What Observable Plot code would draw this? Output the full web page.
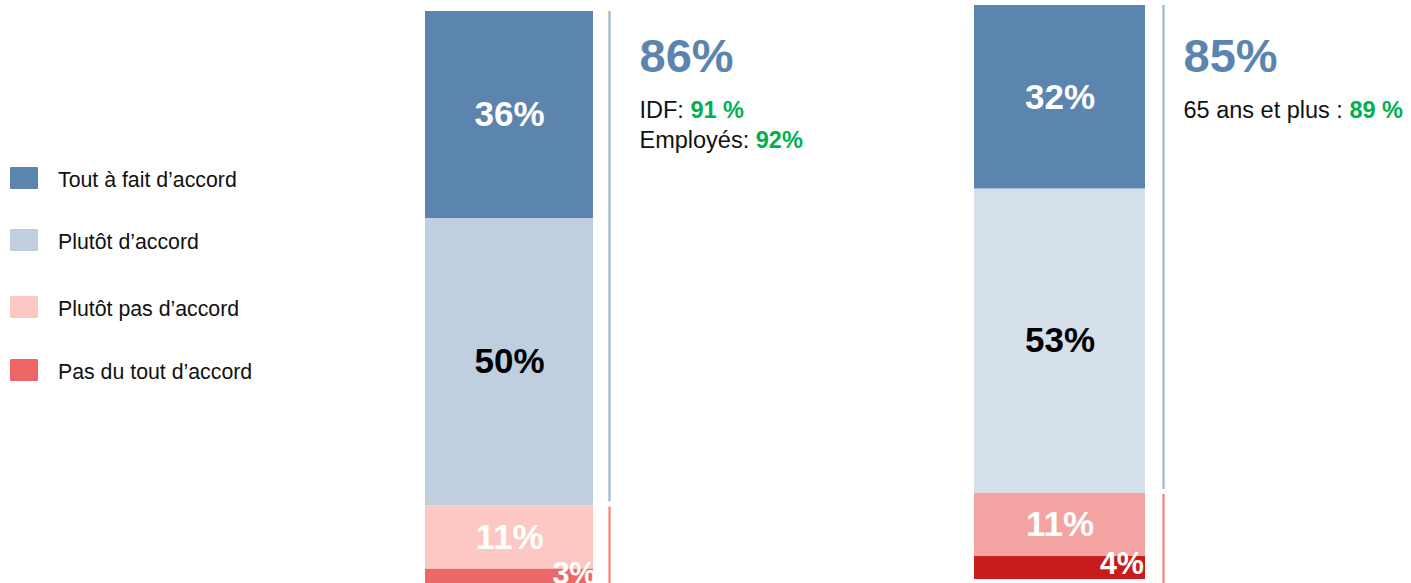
<!DOCTYPE html>
<html><head><meta charset="utf-8">
<script src="https://cdn.jsdelivr.net/npm/d3@7"></script>
<script src="https://cdn.jsdelivr.net/npm/@observablehq/plot@0.6"></script>
<style>
body{margin:0;background:#fff;font-family:"Liberation Sans",Arial,sans-serif}
#wrap{position:relative;width:1411px;height:583px;overflow:hidden;background:#fff}
#wrap svg{position:absolute;left:0;top:0}
.li{position:absolute;left:10px;height:22px}
.li .sw{position:absolute;left:0;top:0;width:28px;height:22px;border-radius:1px}
.li .tx{position:absolute;left:48px;top:2px;font-size:21.3px;line-height:22px;white-space:nowrap;color:#111}
</style></head><body><div id="wrap"></div>
<script>
// ---- data ----
const categories = ["Tout à fait d’accord", "Plutôt d’accord", "Plutôt pas d’accord", "Pas du tout d’accord"];
const groups = ["Question 1", "Question 2"];
const valuesQ1 = [36, 50, 11, 3];
const valuesQ2 = [32, 53, 11, 4];
const favorableTotals = [86, 85];
const highlightsQ1 = [{label: "IDF: ", value: "91 %"}, {label: "Employés: ", value: "92%"}];
const highlightsQ2 = [{label: "65 ans et plus : ", value: "89 %"}];

// ---- styles / layout ----
const colorsQ1 = ["#5b84ae", "#bfcfe0", "#fdc8c3", "#ec6868"];
const colorsQ2 = ["#5b84ae", "#d5e0ea", "#f2a3a2", "#c81c1c"];
const labelInk = ["#ffffff", "#000000", "#ffffff", "#ffffff"];
const ruleColors = ["#9db5d2", "#f28379"];
const legendTops = [167, 229, 296, 359];
const FONT = '"Liberation Sans", Arial, sans-serif';
const layouts = [
  {xRange: [424, 1142], paddingInner: 0.6945, yRange: [11, 586], ruleDx: 100, textDx: 130, smallDx: 87},
  {xRange: [424, 1145], paddingInner: 0.689, yRange: [5, 579], ruleDx: 103.5, textDx: 123.5, smallDx: 84}
];

const wrap = document.getElementById("wrap");

// legend
categories.forEach((c, k) => {
  const d = document.createElement("div");
  d.className = "li";
  d.style.top = legendTops[k] + "px";
  d.innerHTML = `<div class="sw" style="background:${colorsQ1[k]}"></div><div class="tx"></div>`;
  d.querySelector(".tx").textContent = c;
  wrap.appendChild(d);
});

const ctx = document.createElement("canvas").getContext("2d");
function measure(t, size) { ctx.font = `${size}px "Liberation Sans", Arial, sans-serif`; return ctx.measureText(t).width; }

function drawBar(i, values, colors, highlights) {
  const L = layouts[i];
  const g = groups[i];
  const ends = d3.cumsum(values);
  const rows = categories.map((c, k) => ({
    group: g, category: c, value: values[k], color: colors[k], ink: labelInk[k],
    y1: ends[k] - values[k], y2: ends[k], mid: ends[k] - values[k] / 2,
    text: values[k] + "%"
  }));
  const big = rows.slice(0, 3), small = rows.slice(3);
  const fav = [{group: g, y1: 0, y2: favorableTotals[i], color: ruleColors[0]}];
  const unf = [{group: g, y1: favorableTotals[i], y2: 100, color: ruleColors[1]}];
  const DETAIL = 23.5;
  const marks = [
    Plot.barY(rows, {x: "group", y1: "y1", y2: "y2", fill: "color"}),
    Plot.text(big, {x: "group", y: "mid", text: "text", fill: "ink", fontSize: 35, fontWeight: "bold", fontFamily: FONT}),
    Plot.text(small, {x: "group", y: "mid", text: "text", fill: "ink", fontSize: 30.5, fontWeight: "bold", fontFamily: FONT, textAnchor: "end", dx: L.smallDx, dy: -4}),
    Plot.ruleX(fav, {x: "group", y1: "y1", y2: "y2", stroke: "color", strokeWidth: 2.2, dx: L.ruleDx, insetBottom: 4}),
    Plot.ruleX(unf, {x: "group", y1: "y1", y2: "y2", stroke: "color", strokeWidth: 2.2, dx: L.ruleDx, insetTop: 1, insetBottom: -6}),
    Plot.text([{group: g, t: favorableTotals[i] + "%"}], {x: "group", frameAnchor: "top", lineAnchor: "middle", text: "t", dx: L.textDx, dy: 56, textAnchor: "start", fill: "#5b84ae", fontSize: 47, fontWeight: "bold", fontFamily: FONT})
  ];
  highlights.forEach((h, j) => {
    const dy = 110 + j * 30;
    marks.push(Plot.text([{group: g, t: h.label}], {x: "group", frameAnchor: "top", lineAnchor: "middle", text: "t", dx: L.textDx, dy, textAnchor: "start", fill: "#111", fontSize: DETAIL, fontFamily: FONT}));
    marks.push(Plot.text([{group: g, t: h.value}], {x: "group", frameAnchor: "top", lineAnchor: "middle", text: "t", dx: L.textDx + measure(h.label, DETAIL), dy, textAnchor: "start", fill: "#00b050", fontSize: DETAIL, fontWeight: "bold", fontFamily: FONT}));
  });
  const svg = Plot.plot({
    width: 1411, height: 583,
    marginTop: 0, marginBottom: 0, marginLeft: 0, marginRight: 0,
    style: {background: "transparent", overflow: "visible"},
    x: {type: "band", domain: groups, range: L.xRange, paddingInner: L.paddingInner, paddingOuter: 0, axis: null},
    y: {domain: [0, 100], range: L.yRange, axis: null},
    color: {type: "identity"},
    marks
  });
  wrap.appendChild(svg);
}

drawBar(0, valuesQ1, colorsQ1, highlightsQ1);
drawBar(1, valuesQ2, colorsQ2, highlightsQ2);
</script>
</body></html>
